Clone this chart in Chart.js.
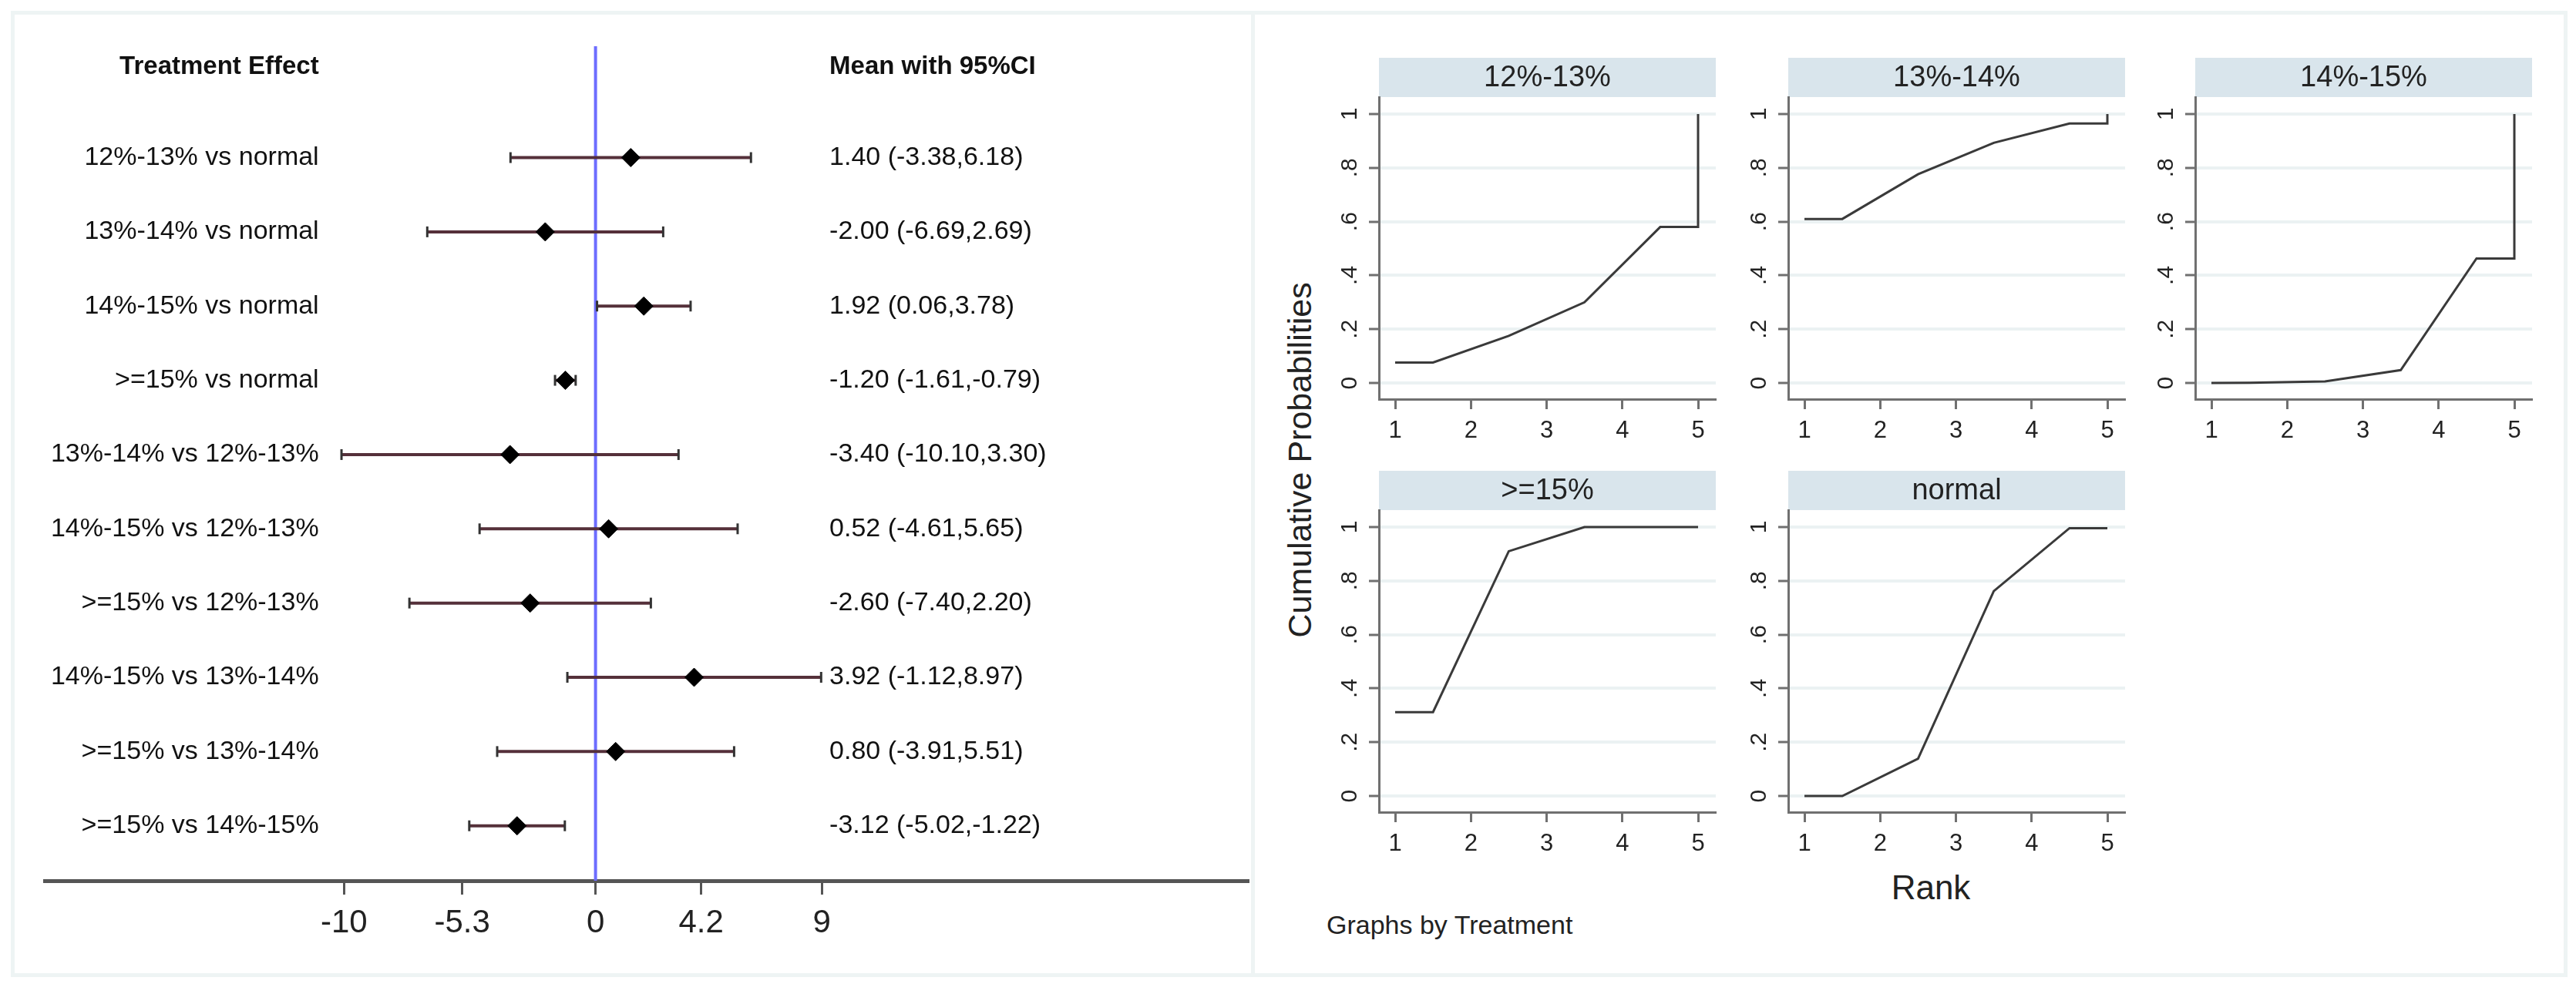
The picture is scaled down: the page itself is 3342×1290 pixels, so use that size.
<!DOCTYPE html>
<html>
<head>
<meta charset="utf-8">
<script src="https://cdn.jsdelivr.net/npm/chart.js@4.4.0/dist/chart.umd.min.js"></script>
<style>
  body { margin: 0; width: 3342px; height: 1290px; background: #fff; position: relative; overflow: hidden;
         font-family: 'Liberation Sans', Arial, sans-serif; color: #222; }
  .frame { position: absolute; border: 5px solid #eef4f4; box-sizing: border-box; }
  canvas { position: absolute; }
  .txt { position: absolute; white-space: nowrap; }
</style>
</head>
<body>
<div class="frame" style="left:14px; top:14px; width:1614px; height:1254px;"></div>
<div class="frame" style="left:1623px; top:14px; width:1708px; height:1254px;"></div>

<canvas id="forest" width="1600" height="1240" style="left:21px; top:20px;"></canvas>
<canvas id="f0" width="511" height="513" style="left:1719px; top:75px;"></canvas>
<canvas id="f1" width="511" height="513" style="left:2250px; top:75px;"></canvas>
<canvas id="f2" width="511" height="513" style="left:2778px; top:75px;"></canvas>
<canvas id="f3" width="511" height="513" style="left:1719px; top:611px;"></canvas>
<canvas id="f4" width="511" height="513" style="left:2250px; top:611px;"></canvas>

<div class="txt" style="left:1686px; top:597px; font-size:43px; transform: translate(-50%,-50%) rotate(-90deg);">Cumulative Probabilities</div>
<div class="txt" style="left:2505px; top:1152px; font-size:44px; transform: translate(-50%,-50%);">Rank</div>
<div class="txt" style="left:1721px; top:1200px; font-size:34px; transform: translate(0,-50%);">Graphs by Treatment</div>

<script>
// Forest plot data (mean difference with 95% CI)
const comparisons = ['12%-13% vs normal', '13%-14% vs normal', '14%-15% vs normal', '>=15% vs normal',
  '13%-14% vs 12%-13%', '14%-15% vs 12%-13%', '>=15% vs 12%-13%', '14%-15% vs 13%-14%',
  '>=15% vs 13%-14%', '>=15% vs 14%-15%'];
const means = [1.40, -2.00, 1.92, -1.20, -3.40, 0.52, -2.60, 3.92, 0.80, -3.12];
const lower = [-3.38, -6.69, 0.06, -1.61, -10.10, -4.61, -7.40, -1.12, -3.91, -5.02];
const upper = [6.18, 2.69, 3.78, -0.79, 3.30, 5.65, 2.20, 8.97, 5.51, -1.22];
const effectTicks = [-10, -5.3, 0, 4.2, 9];

// Cumulative ranking curves
const treatments = ['12%-13%', '13%-14%', '14%-15%', '>=15%', 'normal'];
const rankX = [1, 1.5, 2.5, 3.5, 4.5, 5, 5];
const cum1213 = [0.076, 0.076, 0.175, 0.30, 0.58, 0.58, 1.0];
const cum1314 = [0.61, 0.61, 0.776, 0.893, 0.965, 0.965, 1.0];
const cum1415 = [0.0, 0.001, 0.006, 0.048, 0.463, 0.463, 1.0];
const cum15 = [0.312, 0.312, 0.91, 1.0, 1.0, 1.0, 1.0];
const cumNormal = [0.0, 0.0, 0.139, 0.762, 0.996, 0.996, 0.996];
const rankTicks = [1, 2, 3, 4, 5];
const probTicks = [0, 0.2, 0.4, 0.6, 0.8, 1];
const probLabels = ['0', '.2', '.4', '.6', '.8', '1'];

const FONT = "'Liberation Sans', Arial, sans-serif";
Chart.defaults.font.family = FONT;
Chart.defaults.color = '#222';
Chart.defaults.animation = false;
Chart.defaults.plugins.legend.display = false;
Chart.defaults.plugins.tooltip.enabled = false;

// ---------- forest plot ----------
const forestText = {
  id: 'forestText',
  beforeDatasetsDraw(chart) {
    // reference line at zero
    const { ctx, chartArea, scales: { x } } = chart;
    const px = x.getPixelForValue(0);
    ctx.save();
    ctx.strokeStyle = '#6d6dff';
    ctx.lineWidth = 4;
    ctx.beginPath();
    ctx.moveTo(px, chartArea.top);
    ctx.lineTo(px, chartArea.bottom);
    ctx.stroke();
    ctx.restore();
  },
  afterDraw(chart) {
    const { ctx, scales: { x, y } } = chart;
    const labelX = x.getPixelForValue(-11);
    const valueX = x.getPixelForValue(9.3);
    ctx.save();
    ctx.fillStyle = '#111';
    ctx.textBaseline = 'middle';
    ctx.font = 'bold 33px ' + FONT;
    ctx.textAlign = 'right';
    ctx.fillText('Treatment Effect', labelX, y.getPixelForValue(-0.22));
    ctx.textAlign = 'left';
    ctx.fillText('Mean with 95%CI', valueX, y.getPixelForValue(-0.22));
    ctx.font = '34px ' + FONT;
    comparisons.forEach((c, i) => {
      const py = y.getPixelForValue(i + 1);
      ctx.textAlign = 'right';
      ctx.fillText(c, labelX, py);
      ctx.textAlign = 'left';
      ctx.fillText(means[i].toFixed(2) + ' (' + lower[i].toFixed(2) + ',' + upper[i].toFixed(2) + ')', valueX, py);
    });
    ctx.restore();
  }
};

const forestSets = [{
  data: means.map((m, i) => ({ x: m, y: i + 1 })),
  pointStyle: 'rectRot',
  pointRadius: 12,
  pointBackgroundColor: '#000',
  pointBorderColor: '#000',
  pointBorderWidth: 1
}];
comparisons.forEach((c, i) => {
  forestSets.push({
    data: [{ x: lower[i], y: i + 1 }, { x: upper[i], y: i + 1 }],
    showLine: true,
    borderColor: '#55303a',
    borderWidth: 4,
    pointStyle: 'line',
    rotation: 90,
    pointRadius: 7,
    pointBorderColor: '#333',
    pointBorderWidth: 3
  });
});

new Chart(document.getElementById('forest'), {
  type: 'scatter',
  data: { datasets: forestSets },
  options: {
    responsive: false,
    layout: { autoPadding: false, padding: { left: 37, top: 40, right: 0, bottom: 0 } },
    scales: {
      x: {
        type: 'linear', min: -21.9, max: 26,
        afterBuildTicks: s => { s.ticks = effectTicks.map(v => ({ value: v })); },
        afterFit: s => { s.height = 117; },
        grid: { drawOnChartArea: false, drawTicks: true, tickLength: 18, tickColor: '#555', tickWidth: 3 },
        border: { display: true, color: '#555', width: 5 },
        ticks: { font: { size: 42 }, padding: 12, color: '#222', callback: v => String(v) }
      },
      y: { display: false, reverse: true, min: -0.5, max: 10.74 }
    }
  },
  plugins: [forestText]
});

// ---------- ranking facets ----------
const stripPlugin = {
  id: 'strip',
  beforeDraw(chart) {
    const { ctx, chartArea } = chart;
    ctx.save();
    ctx.fillStyle = '#d9e5ec';
    ctx.fillRect(chartArea.left, chartArea.top - 51, chartArea.right - chartArea.left, 51);
    ctx.fillStyle = '#222';
    ctx.font = '38px ' + FONT;
    ctx.textAlign = 'center';
    ctx.textBaseline = 'middle';
    ctx.fillText(chart.options.plugins.strip.text, (chartArea.left + chartArea.right) / 2, chartArea.top - 24);
    ctx.restore();
  }
};

function makeFacet(id, name, probs) {
  new Chart(document.getElementById(id), {
    type: 'scatter',
    data: {
      datasets: [{
        data: rankX.map((r, i) => ({ x: r, y: probs[i] })),
        showLine: true,
        borderColor: '#3a3a3a',
        borderWidth: 3,
        pointRadius: 0,
        tension: 0
      }]
    },
    options: {
      responsive: false,
      layout: { autoPadding: false, padding: { left: 0, top: 51, right: 4, bottom: 0 } },
      plugins: { strip: { text: name } },
      scales: {
        x: {
          type: 'linear', min: 0.786, max: 5.234,
          afterBuildTicks: s => { s.ticks = rankTicks.map(v => ({ value: v })); },
          afterFit: s => { s.height = 70; },
          grid: { drawOnChartArea: false, tickLength: 13, tickColor: '#707070', tickWidth: 3 },
          border: { display: true, color: '#707070', width: 3 },
          ticks: { font: { size: 31 }, padding: 10, color: '#222', callback: v => String(v) }
        },
        y: {
          type: 'linear', min: -0.06, max: 1.063,
          afterBuildTicks: s => { s.ticks = probTicks.map(v => ({ value: v })); },
          afterFit: s => { s.width = 70; },
          grid: { color: '#ebf2f3', lineWidth: 4, tickLength: 13, tickColor: '#707070', tickWidth: 3 },
          border: { display: true, color: '#707070', width: 3 },
          ticks: {
            font: { size: 30 }, padding: 12, color: '#222', minRotation: 90, maxRotation: 90,
            crossAlign: 'center',
            callback: (v, i) => probLabels[i]
          }
        }
      }
    },
    plugins: [stripPlugin]
  });
}

makeFacet('f0', treatments[0], cum1213);
makeFacet('f1', treatments[1], cum1314);
makeFacet('f2', treatments[2], cum1415);
makeFacet('f3', treatments[3], cum15);
makeFacet('f4', treatments[4], cumNormal);
</script>
</body>
</html>
